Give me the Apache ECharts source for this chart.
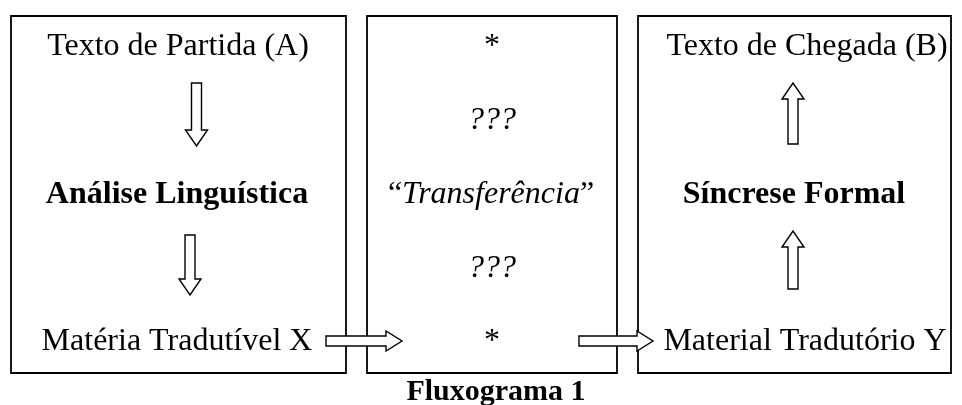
<!DOCTYPE html>
<html><head><meta charset="utf-8">
<script src="https://cdn.jsdelivr.net/npm/echarts@6/dist/echarts.min.js"></script>
<style>html,body{margin:0;padding:0;background:#fff}#c{width:962px;height:405px}</style>
</head><body><div id="c"></div>
<script>
// Content (texts) per box, row by row
var leftTexts = ['Texto de Partida (A)', '', 'Análise Linguística', '', 'Matéria Tradutível X'];
var leftStyles = ['normal', 'normal', 'bold', 'normal', 'normal'];
var middleTexts = ['*', '???', '\u201CTransferência\u201D', '???', '*'];
var middleStyles = ['normal', 'italic', 'mixed', 'italic', 'normal'];
var rightTexts = ['Texto de Chegada (B)', '', 'Síncrese Formal', '', 'Material Tradutório Y'];
var rightStyles = ['normal', 'normal', 'bold', 'normal', 'normal'];
var captionText = 'Fluxograma 1';
// Flow arrows: [box, fromRow, toRow] (vertical) and [fromBox, toBox] (horizontal, bottom row)
var verticalArrows = [[0, 0, 2], [0, 2, 4], [2, 2, 0], [2, 4, 2]];
var horizontalArrows = [[0, 1], [1, 2]];

// ---- layout (styling / placement only) ----
var FONT = '"Liberation Serif", "Times New Roman", serif';
var FS = 32;
var boxes = [{x0: 11, x1: 346}, {x0: 367, x1: 617}, {x0: 638, x1: 951}];
var textCx = [[178, 178, 177, 178, 177], [492, 492, 491, 492, 492], [807, 807, 794, 807, 805]];
var TOP = 16, BOTTOM = 373;
var rowY = [47, 121, 195, 269, 342];
// vertical arrow placement: [cx, yStart, yTip]
var vArrowPos = [[196.5, 83, 146], [190, 235, 295], [793, 144, 83], [793, 289, 231]];
// horizontal arrow placement: [xStart, xTip, cy]
var hArrowPos = [[326, 402, 341], [579, 653, 341]];

var chart = echarts.init(document.getElementById('c'), null, {renderer: 'canvas'});
var els = [];
boxes.forEach(function (b) {
  els.push({type: 'rect', shape: {x: b.x0, y: TOP, width: b.x1 - b.x0, height: BOTTOM - TOP},
    style: {fill: 'none', stroke: '#000', lineWidth: 1.8}});
});
function addText(str, style, x, y) {
  if (!str) return;
  if (style === 'mixed') {
    els.push({type: 'text', style: {text: '{q|\u201C}{i|' + str.slice(1, -1) + '}{q|\u201D}', x: x, y: y,
      align: 'center', verticalAlign: 'middle',
      rich: {q: {fontFamily: FONT, fontSize: FS, fill: '#000'},
             i: {fontFamily: FONT, fontSize: FS, fontStyle: 'italic', fill: '#000'}}}});
    return;
  }
  els.push({type: 'text', style: {text: str, x: x, y: y, align: 'center', verticalAlign: 'middle',
    fontFamily: FONT, fontSize: FS, fill: '#000',
    fontWeight: style === 'bold' ? 'bold' : 'normal',
    fontStyle: style === 'italic' ? 'italic' : 'normal'}});
}
[leftTexts, middleTexts, rightTexts].forEach(function (arr, bi) {
  var st = [leftStyles, middleStyles, rightStyles][bi];
  arr.forEach(function (t, ri) { addText(t, st[ri], textCx[bi][ri], rowY[ri]); });
});

var SH = 5, HW = 11, HL = 16;
function vArrow(cx, yStart, yTip) {
  var d = yTip > yStart ? 1 : -1;
  var hb = yTip - d * HL;
  return [[cx - SH, yStart], [cx + SH, yStart], [cx + SH, hb], [cx + HW, hb], [cx, yTip],
          [cx - HW, hb], [cx - SH, hb]];
}
function hArrow(xStart, xTip, cy) {
  var hb = xTip - HL;
  return [[xStart, cy - SH], [hb, cy - SH], [hb, cy - 10], [xTip, cy], [hb, cy + 10],
          [hb, cy + SH], [xStart, cy + SH]];
}
verticalArrows.forEach(function (a, i) {
  var p = vArrowPos[i];
  els.push({type: 'polygon', shape: {points: vArrow(p[0], p[1], p[2])},
    style: {fill: '#fff', stroke: '#000', lineWidth: 1.4}});
});
horizontalArrows.forEach(function (a, i) {
  var p = hArrowPos[i];
  els.push({type: 'polygon', shape: {points: hArrow(p[0], p[1], p[2])},
    style: {fill: '#fff', stroke: '#000', lineWidth: 1.4}, z: 10});
});
els.push({type: 'text', style: {text: captionText, x: 496, y: 392, align: 'center', verticalAlign: 'middle',
  fontFamily: FONT, fontSize: 30, fontWeight: 'bold', fill: '#000'}});

chart.setOption({animation: false, backgroundColor: '#fff', graphic: {elements: els}});
</script></body></html>
